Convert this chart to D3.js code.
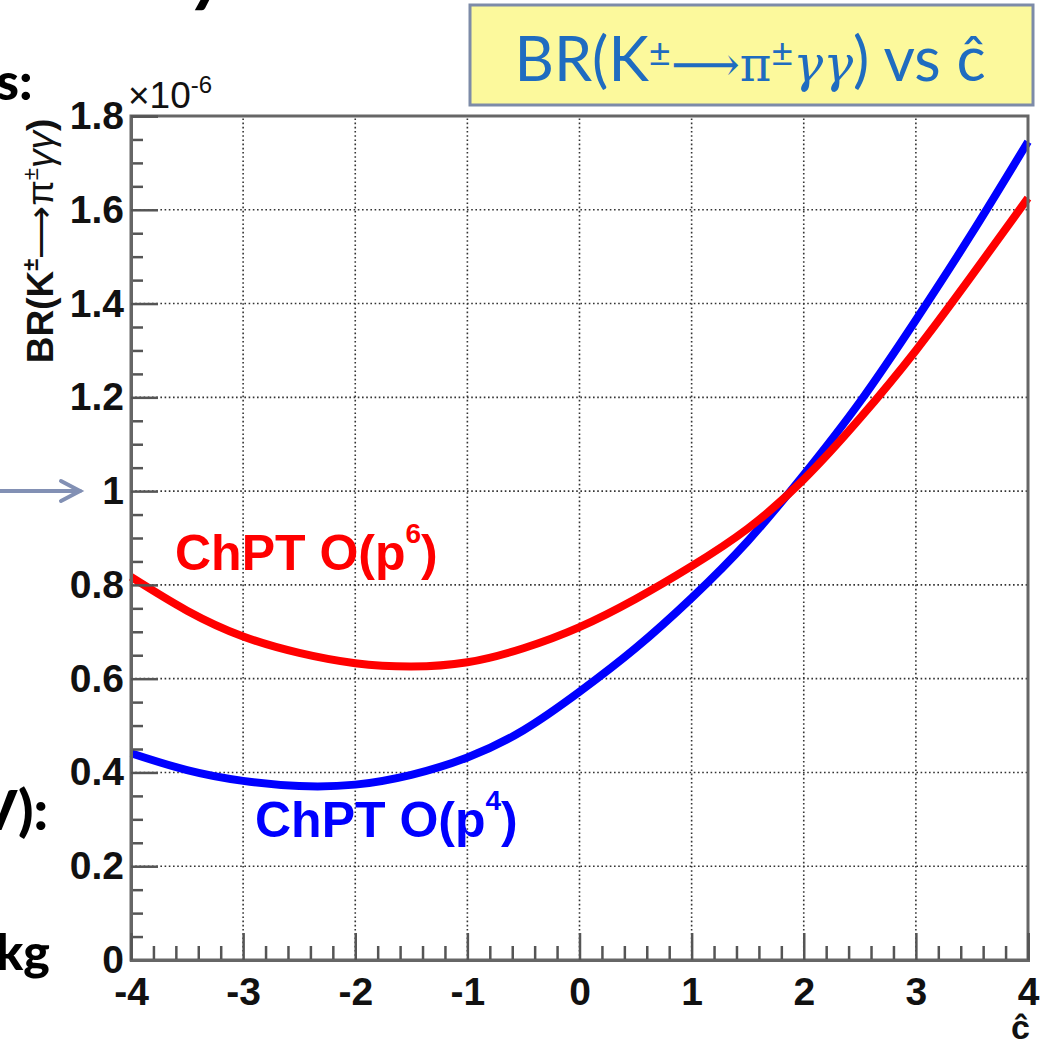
<!DOCTYPE html>
<html>
<head>
<meta charset="utf-8">
<script src="https://cdn.jsdelivr.net/npm/d3@7"></script>
<style>
  body { margin: 0; background: #fff; }
  svg { display: block; }
</style>
</head>
<body>
<div id="chart"></div>
<script>
// values
const cHat = [-4, -3.5, -3, -2.5, -2, -1.5, -1, -0.5, 0, 0.5, 1, 1.5, 2, 2.5, 3, 3.5, 4];
const brP6 = [0.817, 0.745, 0.69, 0.655, 0.633, 0.626, 0.635, 0.665, 0.71, 0.77, 0.84, 0.92, 1.025, 1.155, 1.3, 1.46, 1.625];
const brP4 = [0.441, 0.405, 0.382, 0.371, 0.374, 0.395, 0.432, 0.49, 0.572, 0.665, 0.772, 0.893, 1.035, 1.19, 1.365, 1.55, 1.745];
const xTicks = [-4, -3, -2, -1, 0, 1, 2, 3, 4];
const yTicks = [0, 0.2, 0.4, 0.6, 0.8, 1, 1.2, 1.4, 1.6, 1.8];
const xMinor = d3.range(-40, 41, 2).map(d => d / 10).filter(d => !xTicks.includes(d));
const yMinor = d3.range(0, 37).map(d => d * 0.05).filter(d => Math.abs(d * 5 - Math.round(d * 5)) > 1e-6);

const width = 1047;
const height = 1044;
const margin = { top: 116, right: 19, bottom: 84, left: 131 };

const svg = d3.select('#chart')
  .append('svg')
  .attr('width', width)
  .attr('height', height);

const x = d3.scaleLinear()
  .domain([-4, 4])
  .range([margin.left, width - margin.right]);

const y = d3.scaleLinear()
  .domain([0, 1.8])
  .range([height - margin.bottom, margin.top]);

const tickFont = '"Liberation Sans", Arial, sans-serif';

// leftovers of the slide around the plot
const slide = svg.append('g')
  .attr('font-family', 'Lato, "Open Sans", sans-serif')
  .attr('font-weight', 900)
  .attr('fill', '#000');
slide.append('text').attr('x', 192).attr('y', -2).attr('font-size', 70).attr('font-style', 'italic').text('y');
slide.append('text').attr('x', -4).attr('y', 100).attr('font-size', 52).text('s:');
slide.append('text').attr('x', -22).attr('y', 830).attr('font-size', 56).text('V):');
slide.append('text').attr('x', -4).attr('y', 970).attr('font-size', 50).text('kg');

const arrow = svg.append('g')
  .attr('stroke', '#8290b4')
  .attr('stroke-width', 4)
  .attr('fill', 'none')
  .attr('stroke-linecap', 'round');
arrow.append('line').attr('x1', -5).attr('x2', 80).attr('y1', 491).attr('y2', 491);
arrow.append('path').attr('d', 'M61,481 L80,491 L61,501');

// grid
const grid = svg.append('g')
  .attr('stroke', '#333')
  .attr('stroke-width', 1.6)
  .attr('stroke-dasharray', '1.6,2.6');
grid.selectAll('.gx')
  .data(xTicks.slice(1, -1))
  .join('line')
    .attr('x1', d => x(d)).attr('x2', d => x(d))
    .attr('y1', y(0)).attr('y2', y(1.8));
grid.selectAll('.gy')
  .data(yTicks.slice(1, -1))
  .join('line')
    .attr('y1', d => y(d)).attr('y2', d => y(d))
    .attr('x1', x(-4)).attr('x2', x(4));

// curves
const line = (vals) => d3.line()
  .x((d, i) => x(cHat[i]))
  .y(d => y(d))
  .curve(d3.curveNatural)(vals);

svg.append('path')
  .attr('d', line(brP4))
  .attr('fill', 'none')
  .attr('stroke', '#0000ff')
  .attr('stroke-width', 8);

svg.append('path')
  .attr('d', line(brP6))
  .attr('fill', 'none')
  .attr('stroke', '#ff0000')
  .attr('stroke-width', 8);

// frame
svg.append('rect')
  .attr('x', x(-4)).attr('y', y(1.8))
  .attr('width', x(4) - x(-4)).attr('height', y(0) - y(1.8))
  .attr('fill', 'none')
  .attr('stroke', '#666')
  .attr('stroke-width', 3);

// axes
function styleAxis(g) {
  g.select('.domain').attr('stroke', '#666').attr('stroke-width', 3);
  g.selectAll('.tick line').attr('stroke', '#555').attr('stroke-width', 2.5);
  g.selectAll('.tick text')
    .attr('font-family', tickFont)
    .attr('font-weight', 'bold')
    .attr('font-size', 39)
    .attr('fill', '#111');
}

svg.append('g')
  .attr('transform', `translate(${x(-4)},0)`)
  .call(d3.axisLeft(y).tickValues(yMinor).tickSize(-12).tickFormat(''))
  .call(styleAxis);

svg.append('g')
  .attr('transform', `translate(0,${y(0)})`)
  .call(d3.axisBottom(x).tickValues(xMinor).tickSize(-14).tickFormat(''))
  .call(styleAxis);

svg.append('g')
  .attr('transform', `translate(${x(-4)},0)`)
  .call(d3.axisLeft(y).tickValues(yTicks).tickSize(-27).tickPadding(7).tickFormat(d3.format('~g')))
  .call(styleAxis);

svg.append('g')
  .attr('transform', `translate(0,${y(0)})`)
  .call(d3.axisBottom(x).tickValues(xTicks).tickSize(-27).tickPadding(17).tickFormat(d => String(d)))
  .call(styleAxis);

// exponent
const expo = svg.append('text')
  .attr('x', 128).attr('y', 108)
  .attr('font-family', tickFont)
  .attr('font-size', 37)
  .attr('fill', '#111');
expo.append('tspan').text('×10');
expo.append('tspan').attr('font-size', 24).attr('dy', -15).text('-6');

// axis titles
svg.append('text')
  .attr('x', x(4) + 2).attr('y', 1039)
  .attr('text-anchor', 'end')
  .attr('font-family', tickFont)
  .attr('font-weight', 'bold')
  .attr('font-size', 34)
  .attr('fill', '#111')
  .text('ĉ');

const yTitle = svg.append('text')
  .attr('transform', 'translate(53,241) rotate(-90)')
  .attr('text-anchor', 'middle')
  .attr('font-family', tickFont)
  .attr('font-weight', 'bold')
  .attr('font-size', 37)
  .attr('fill', '#111');
yTitle.append('tspan').text('BR(K');
yTitle.append('tspan').attr('font-size', 22).attr('dy', -15).text('±');
yTitle.append('tspan').attr('dy', 15).attr('font-weight', 'normal').text('⟶π');
yTitle.append('tspan').attr('font-size', 22).attr('dy', -15).attr('font-weight', 'normal').text('±');
yTitle.append('tspan').attr('dy', 15).attr('font-weight', 'normal').attr('font-style', 'italic').text('γγ');
yTitle.append('tspan').text(')');

// curve labels
function curveLabel(tx, ty, color, order) {
  const t = svg.append('text')
    .attr('x', tx).attr('y', ty)
    .attr('font-family', tickFont)
    .attr('font-weight', 'bold')
    .attr('font-size', 50)
    .attr('fill', color);
  t.append('tspan').text('ChPT O(p');
  t.append('tspan').attr('font-size', 28).attr('dy', -27).text(order);
  t.append('tspan').attr('dy', 27).text(')');
}
curveLabel(175, 570, '#ff0000', '6');
curveLabel(255, 837, '#0000ff', '4');

// title box
svg.append('rect')
  .attr('x', 470).attr('y', 5)
  .attr('width', 563).attr('height', 100)
  .attr('fill', '#fcf99c')
  .attr('stroke', '#7d8ba8')
  .attr('stroke-width', 3);

const title = svg.append('text')
  .attr('x', 750).attr('y', 81)
  .attr('text-anchor', 'middle')
  .attr('font-family', 'Lato, "Open Sans", sans-serif')
  .attr('font-size', 61)
  .attr('fill', '#1f6cc0');
title.append('tspan').text('BR(K');
title.append('tspan').attr('font-size', 38).attr('dy', -14).text('±');
title.append('tspan').attr('dy', 14).attr('font-family', '"DejaVu Serif", serif').attr('font-size', 48).text('⟶π');
title.append('tspan').attr('font-size', 38).attr('dy', -14).text('±');
title.append('tspan').attr('dy', 14).attr('font-family', '"DejaVu Serif", serif').attr('font-style', 'italic').attr('font-size', 50).text('γγ');
title.append('tspan').text(') vs ĉ');
</script>
</body>
</html>
